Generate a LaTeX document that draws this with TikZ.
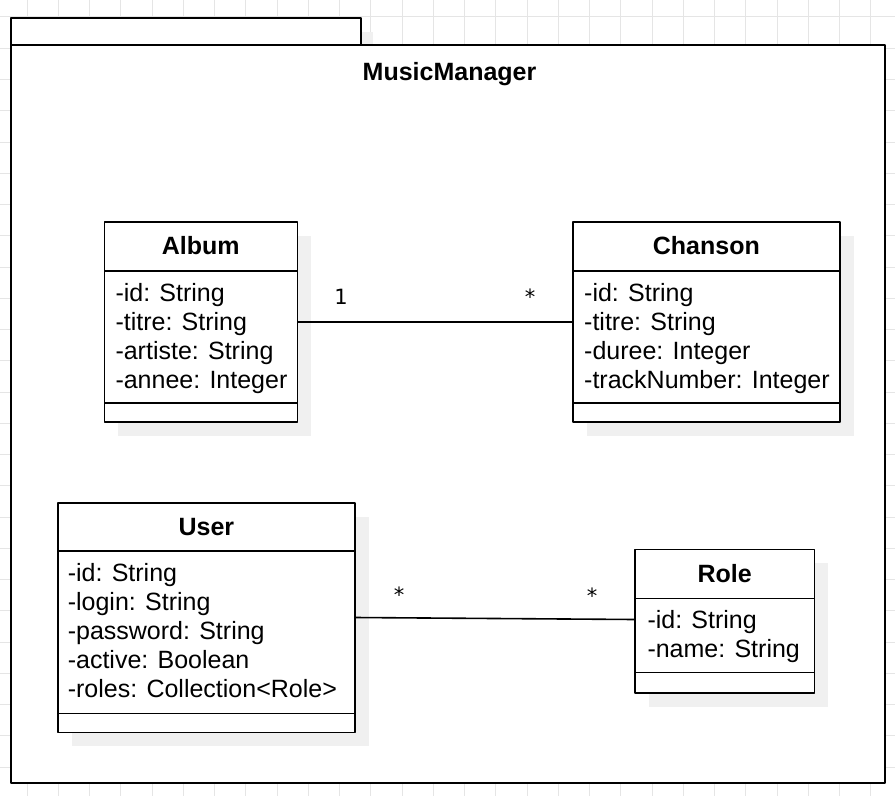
\documentclass[tikz,border=0pt]{standalone}
\usepackage{fontspec}
\setmainfont{Liberation Sans}
\newfontfamily\multfont{DejaVu Sans}
\usetikzlibrary{shadows}

\definecolor{gridcol}{rgb}{0.90,0.90,0.90}
\definecolor{shadowcol}{rgb}{0.94,0.94,0.94}

\tikzset{
  pkgbox/.style={draw, fill=white, line width=2bp, inner sep=0pt, outer sep=0pt, anchor=north west},
  classbox/.style={draw, fill=white, line width=1.6bp, inner sep=0pt, outer sep=0pt, anchor=north west,
    drop shadow={shadow xshift=14bp, shadow yshift=-14bp, fill=shadowcol, opacity=1}},
  sepline/.style={line width=1.6bp},
  classname/.style={font=\bfseries\fontsize{25bp}{29bp}\selectfont, anchor=base, inner sep=0pt},
  attrs/.style={font=\fontsize{25bp}{29bp}\selectfont, align=left, anchor=north west, inner sep=0pt},
  mult/.style={font=\multfont\fontsize{21bp}{25bp}\selectfont, anchor=base, inner sep=0pt},
}

\begin{document}
\begin{tikzpicture}[>=latex,line join=bevel,x=1bp,y=-1bp]
  \pgfsetlinewidth{1bp}
  \useasboundingbox (0,0) rectangle (895,796);
%%
  % Grid
  \foreach \gx in {27,58.25,...,895} \draw [gridcol] (\gx,0) -- (\gx,796);
  \foreach \gy in {17,48.25,...,796} \draw [gridcol] (0,\gy) -- (895,\gy);
  % Package: MusicManager
  \node [pkgbox, minimum width=350bp, minimum height=27bp,
    drop shadow={shadow xshift=12bp, shadow yshift=-14bp, fill=shadowcol, opacity=1}] (tab) at (11,18) {};
  \node [pkgbox, minimum width=874bp, minimum height=738bp] (pkg) at (11,45) {};
  \node [classname] (pkg-title) at (449.5,81) {MusicManager};
  % Node: Album
\begin{scope}
  \node [classbox, minimum width=193bp, minimum height=200.3bp] (album) at (104.3,221.7) {};
  \node [classname] (album-title) at ([yshift=-33.2bp]album.north) {Album};
  \draw [sepline] ([yshift=-49bp]album.north west) -- ([yshift=-49bp]album.north east);
  \node [attrs] (album-attrs) at ([xshift=10.7bp,yshift=-61.5bp]album.north west)
    {-id: String\\-titre: String\\-artiste: String\\-annee: Integer};
  \draw [sepline] ([yshift=19.3bp]album.south west) -- ([yshift=19.3bp]album.south east);
\end{scope}
  % Node: Chanson
\begin{scope}
  \node [classbox, minimum width=267.3bp, minimum height=200.3bp] (chanson) at (572.7,221.7) {};
  \node [classname] (chanson-title) at ([yshift=-33.2bp]chanson.north) {Chanson};
  \draw [sepline] ([yshift=-49bp]chanson.north west) -- ([yshift=-49bp]chanson.north east);
  \node [attrs] (chanson-attrs) at ([xshift=11bp,yshift=-61.5bp]chanson.north west)
    {-id: String\\-titre: String\\-duree: Integer\\-trackNumber: Integer};
  \draw [sepline] ([yshift=19.3bp]chanson.south west) -- ([yshift=19.3bp]chanson.south east);
\end{scope}
  % Node: User
\begin{scope}
  \node [classbox, minimum width=297.3bp, minimum height=229.6bp] (user) at (57.7,502.7) {};
  \node [classname] (user-title) at ([yshift=-33.2bp]user.north) {User};
  \draw [sepline] ([yshift=-48.3bp]user.north west) -- ([yshift=-48.3bp]user.north east);
  \node [attrs] (user-attrs) at ([xshift=9.6bp,yshift=-60.5bp]user.north west)
    {-id: String\\-login: String\\-password: String\\-active: Boolean\\-roles: Collection<Role>};
  \draw [sepline] ([yshift=19bp]user.south west) -- ([yshift=19bp]user.south east);
\end{scope}
  % Node: Role
\begin{scope}
  \node [classbox, minimum width=179.3bp, minimum height=143.4bp] (role) at (635,549.3) {};
  \node [classname] (role-title) at ([yshift=-33.2bp]role.north) {Role};
  \draw [sepline] ([yshift=-49bp]role.north west) -- ([yshift=-49bp]role.north east);
  \node [attrs] (role-attrs) at ([xshift=12bp,yshift=-60.9bp]role.north west)
    {-id: String\\-name: String};
  \draw [sepline] ([yshift=20.4bp]role.south west) -- ([yshift=20.4bp]role.south east);
\end{scope}
  % Edge: Album -- Chanson
  \draw [line width=1.6bp] (album.east) -- (chanson.west);
  \node [mult] (album-mult) at (341,304) {1};
  \node [mult] (chanson-mult) at (530,304) {*};
  % Edge: User -- Role
  \draw [line width=1.6bp] (user.east) -- ([yshift=1.5bp]role.west);
  \node [mult] (user-mult) at (399,602) {*};
  \node [mult] (role-mult) at (592,603) {*};
%
\end{tikzpicture}
\end{document}
